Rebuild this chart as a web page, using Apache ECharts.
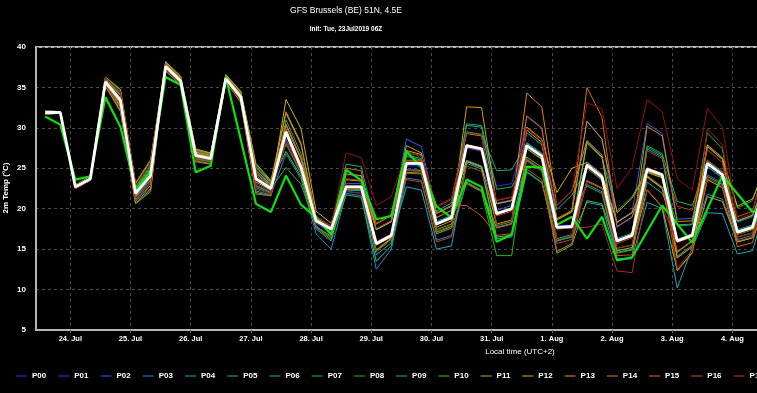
<!DOCTYPE html>
<html>
<head>
<meta charset="utf-8">
<script src="https://cdn.jsdelivr.net/npm/echarts@6/dist/echarts.min.js"></script>
<style>
html,body{margin:0;padding:0;background:#000;overflow:hidden;width:757px;height:393px;}
#chart{width:1040px;height:393px;}
</style>
</head>
<body>
<div id="chart"></div>
<script>
// time steps: first value 23 Jul 2019 14:00 local (UTC+2), every 6 h
const firstStepLocal = Date.UTC(2019, 6, 23, 14);
const stepHours = 6;
const monthNames = ['Jan','Feb','Mar','Apr','May','Jun','Jul','Aug','Sep','Oct','Nov','Dec'];
const yTicks = [5, 10, 15, 20, 25, 30, 35, 40];

const memberNames = ['P00','P01','P02','P03','P04','P05','P06','P07','P08','P09','P10','P11','P12','P13','P14','P15','P16','P17','P18','P19','P20'];

const P00 = [32.0,31.9,22.8,23.8,35.9,33.8,22.3,24.7,37.4,35.6,26.4,26.0,36.0,33.6,23.1,22.2,29.7,25.3,18.2,17.0,24.2,24.0,15.9,16.9,24.9,24.8,18.3,19.1,29.4,29.1,22.8,23.1,30.0,28.5,17.9,18.0,28.5,26.7,16.2,16.9,23.9,22.5,16.2,16.9,27.8,26.2,17.3,17.9,24.2];
const P01 = [31.8,31.8,22.6,23.6,35.4,32.7,21.3,23.1,38.0,36.1,27.1,26.6,36.4,34.2,24.8,23.1,30.4,26.2,18.2,17.2,22.1,21.9,13.5,15.4,25.3,25.3,16.9,17.6,27.5,27.1,20.7,21.1,31.4,29.9,18.7,19.7,30.9,28.7,17.7,18.9,24.6,23.9,14.0,15.4,25.3,23.9,18.3,19.0,24.9];
const P02 = [32.1,32.0,22.9,23.9,36.2,34.5,22.9,25.7,37.7,35.9,26.8,26.3,36.2,33.9,24.1,22.7,28.6,24.9,17.9,16.4,23.1,23.1,17.5,18.5,28.6,27.7,19.5,20.4,26.0,25.3,19.8,20.4,28.2,26.9,14.7,15.7,25.8,24.3,18.4,19.6,30.5,29.3,18.7,18.8,24.2,23.2,15.9,16.4,22.9];
const P03 = [31.9,31.9,22.7,23.7,35.6,33.1,21.6,23.7,37.1,35.4,26.0,25.6,35.7,33.2,22.2,21.7,26.8,23.7,16.9,15.0,21.9,21.6,12.5,15.0,23.8,23.5,16.1,16.7,23.3,22.3,17.7,18.2,26.1,24.8,17.6,17.7,23.0,22.1,13.7,13.8,27.4,26.4,15.9,16.6,21.8,21.2,16.2,16.7,23.9];
const P04 = [31.7,31.8,22.5,23.5,35.2,32.3,20.9,22.5,37.3,35.5,26.2,25.9,35.9,33.5,22.8,22.0,28.2,24.5,17.5,16.0,22.4,22.2,14.7,16.2,22.7,22.3,15.0,15.4,25.6,24.9,16.3,16.5,24.5,23.2,16.0,16.5,20.8,20.4,13.8,13.9,20.8,20.0,10.2,15.2,19.5,19.4,14.4,14.8,21.0];
const P05 = [32.0,32.0,22.8,23.8,36.0,34.1,22.6,25.1,38.1,36.3,27.3,26.8,36.5,34.4,25.4,23.4,29.1,24.7,18.6,17.3,22.3,22.3,14.3,15.8,26.5,26.0,19.7,20.7,30.3,30.1,20.6,21.0,29.4,27.9,19.9,21.7,25.0,23.5,14.5,14.9,23.3,21.9,17.9,18.0,25.2,23.8,15.9,16.4,24.8];
const P06 = [31.9,31.9,22.7,23.7,35.7,33.4,21.9,24.1,37.0,35.3,25.8,25.5,35.7,33.1,21.8,21.6,31.0,26.8,18.8,17.8,25.5,25.2,17.4,18.4,25.9,25.9,18.4,19.2,29.5,29.2,24.7,24.8,28.1,26.8,16.3,16.8,23.4,22.5,16.3,17.0,27.8,26.8,20.9,20.4,25.9,24.5,17.4,18.0,25.5];
const P07 = [31.7,31.8,22.5,23.5,35.1,32.0,20.6,22.1,37.8,36.0,26.9,26.5,36.3,34.1,24.5,22.9,28.0,24.3,17.8,16.6,22.5,22.5,15.5,16.5,26.7,26.2,18.9,19.8,30.5,30.3,22.4,22.7,26.0,24.7,17.5,17.6,28.1,26.3,19.7,21.5,24.7,24.0,14.1,15.5,23.6,22.6,18.4,19.1,23.8];
const P08 = [32.0,32.0,22.9,23.9,36.1,34.2,22.7,25.3,37.2,35.5,26.1,25.8,35.8,33.4,22.6,21.9,29.6,25.2,19.1,17.8,22.5,22.3,14.8,16.3,24.8,24.7,18.2,19.0,27.9,27.5,17.9,18.4,24.6,23.3,16.1,16.6,25.5,24.0,16.1,16.8,27.6,26.6,16.1,16.8,27.7,26.1,20.1,21.0,26.5];
const P09 = [32.1,32.0,23.0,24.0,36.3,34.8,23.2,26.1,37.6,35.8,26.6,26.2,36.1,33.8,23.7,22.5,25.1,23.0,17.7,16.5,21.7,21.4,13.5,15.4,24.4,24.3,16.9,17.6,23.1,22.1,14.2,14.2,27.5,26.2,18.7,19.7,22.8,21.9,14.6,15.0,24.6,23.9,18.0,18.1,29.4,27.4,16.8,17.4,22.2];
const P10 = [31.8,31.9,22.6,23.6,35.5,33.0,21.5,23.5,38.1,36.2,27.2,26.8,36.5,34.4,25.2,23.3,27.1,24.0,17.7,16.2,22.6,22.4,14.9,16.4,25.8,25.8,17.4,18.1,25.8,25.1,16.5,16.7,26.4,25.1,14.5,15.5,21.0,20.6,15.1,15.5,23.9,22.5,16.2,16.9,24.0,23.0,16.5,17.0,22.7];
const P11 = [31.9,31.9,22.8,23.8,35.8,33.7,22.2,24.5,38.2,36.4,27.4,26.9,36.6,34.5,25.6,23.5,31.8,27.9,18.9,17.6,22.6,22.6,15.6,16.6,25.5,25.5,17.1,17.8,27.7,27.3,19.3,19.9,29.7,28.2,17.6,17.7,28.2,26.4,14.8,15.2,22.3,20.2,12.4,14.6,25.5,24.1,18.5,19.2,23.9];
const P12 = [31.8,31.8,22.6,23.6,35.3,32.6,21.1,22.9,37.5,35.7,26.4,26.1,36.0,33.7,23.3,22.3,33.5,29.9,19.7,18.2,24.3,24.1,17.4,18.4,27.2,26.7,19.4,20.3,25.9,25.2,18.1,18.6,30.1,28.6,22.0,25.0,25.7,24.2,18.3,19.5,24.0,22.6,14.6,16.0,27.9,26.3,20.3,21.2,25.5];
const P13 = [32.1,32.0,22.9,23.9,36.2,34.7,23.1,25.9,37.9,36.1,27.0,26.6,36.3,34.2,24.7,23.0,30.3,26.1,19.0,17.5,23.6,23.4,18.1,19.2,27.8,26.9,17.7,18.5,32.6,32.5,20.6,21.0,27.4,26.1,18.6,19.6,30.8,28.6,19.5,21.3,24.5,23.8,13.9,15.3,21.5,20.9,15.9,16.4,20.6];
const P14 = [31.7,31.8,22.5,23.5,35.2,32.1,20.7,22.3,37.8,36.0,26.8,26.4,36.2,34.0,24.3,22.8,32.0,28.1,18.6,17.6,22.8,22.8,14.8,16.3,27.0,26.5,20.2,21.2,29.3,29.0,19.5,20.1,34.3,32.6,20.4,22.2,28.4,26.6,16.1,16.8,30.2,29.0,18.4,18.5,27.7,26.1,17.2,17.8,24.1];
const P15 = [32.0,32.0,22.8,23.8,35.9,34.0,22.4,24.9,37.1,35.3,25.9,25.6,35.7,33.2,22.0,21.6,30.5,26.3,18.8,17.5,25.0,24.7,15.5,16.5,24.5,24.4,18.9,19.8,23.2,22.2,17.6,18.1,31.5,30.0,18.8,19.8,35.0,31.3,17.8,19.0,24.7,24.0,12.3,14.5,23.6,22.6,15.3,15.8,22.3];
const P16 = [31.8,31.8,22.6,23.6,35.5,32.8,21.4,23.3,38.0,36.2,27.2,26.7,36.4,34.3,25.0,23.2,29.9,25.5,18.9,17.9,22.8,22.6,17.5,18.5,26.0,26.0,19.5,20.4,20.4,19.1,16.7,16.9,24.9,23.6,14.7,15.7,23.5,22.6,14.2,14.3,24.1,22.7,14.7,16.1,26.0,24.6,19.0,19.7,26.8];
const P17 = [32.0,32.0,22.9,23.9,36.1,34.4,22.8,25.5,37.4,35.6,26.3,25.9,35.9,33.5,22.9,22.1,29.2,24.8,17.7,16.5,23.7,23.5,18.2,19.3,23.6,23.3,15.9,16.5,25.3,24.6,19.1,19.7,25.9,24.6,15.7,16.2,25.1,23.6,15.7,16.4,27.2,26.2,20.3,19.8,27.3,25.7,16.0,16.5,22.2];
const P18 = [31.8,31.8,22.5,23.5,35.3,32.4,21.0,22.7,37.7,35.9,26.7,26.3,36.1,33.9,23.9,22.6,28.2,24.5,18.3,17.3,22.5,22.5,14.7,16.2,24.7,24.6,17.2,17.9,27.6,27.2,21.0,21.4,26.2,24.9,17.5,17.6,17.7,18.1,12.3,12.1,22.4,20.3,15.8,16.5,23.8,22.8,16.9,17.5,23.8];
const P19 = [31.9,31.9,22.7,23.7,35.8,33.5,22.0,24.3,37.2,35.4,26.0,25.7,35.8,33.3,22.4,21.8,28.4,24.7,18.7,17.7,22.2,21.9,15.9,16.9,25.8,25.8,20.3,21.3,29.4,29.1,18.0,18.5,30.0,28.5,16.2,16.7,23.3,22.4,15.1,15.5,25.1,24.4,12.7,14.9,29.9,27.9,16.5,17.0,21.2];
const P20 = [32.1,32.0,22.9,23.9,36.2,34.5,22.9,25.7,37.5,35.7,26.5,26.1,36.1,33.7,23.5,22.4,29.4,25.0,19.1,17.8,26.9,26.3,20.4,21.5,27.0,26.5,20.2,21.2,27.9,27.5,21.1,21.5,29.9,28.4,20.4,22.2,33.1,32.4,22.5,25.1,33.5,32.0,23.7,22.3,32.4,30.1,18.7,19.4,26.5];

const ensembleMean = [31.9,31.9,22.7,23.7,35.7,33.4,21.9,24.1,37.6,35.8,26.6,26.2,36.1,33.8,23.7,22.5,29.5,25.1,18.5,17.5,22.7,22.7,15.7,16.7,25.6,25.6,18.1,18.9,27.8,27.4,19.4,20.0,27.8,26.5,17.7,17.8,25.4,23.9,16.0,16.7,24.9,24.2,16.0,16.7,25.6,24.2,17.1,17.7,24.0];
const operational = [31.4,30.4,23.6,24.0,33.8,30.1,22.3,24.7,36.3,35.3,24.5,25.3,36.3,28.5,20.6,19.6,24.1,20.5,18.9,16.8,24.8,23.5,18.7,19.1,27.1,25.1,20.3,18.9,23.6,22.7,15.9,16.8,25.2,25.1,18.0,19.0,16.3,19.0,13.6,14.0,null,20.4,null,15.8,null,24.1,null,19.6,null,20.5];

const memberValues = [P00,P01,P02,P03,P04,P05,P06,P07,P08,P09,P10,P11,P12,P13,P14,P15,P16,P17,P18,P19,P20];
const memberColors = ['#3a2ad8','#2a3cf0','#2a64e8','#1e8cd8','#14aac8','#12b4a4','#14b478','#18b450','#1cb030','#30b41c','#5abc18','#a8b814','#c8b414','#d49c14','#dc8414','#d46c14','#c85614','#bc4214','#b03014','#a41e14','#941010'];

const timeOf = i => firstStepLocal + i * stepHours * 3600 * 1000;
const toPairs = arr => arr.map((v, i) => [timeOf(i), v]);

const FONT = 'Liberation Sans, Arial, sans-serif';
const series = memberValues.map((arr, k) => ({
  name: memberNames[k], type: 'line', data: toPairs(arr), symbol: 'none',
  lineStyle: {width: 1, color: memberColors[k]}, itemStyle: {color: memberColors[k]},
  z: 2, animation: false, emphasis: {disabled: true}
}));
series.push({
  name: 'GFS', type: 'line', data: toPairs(operational), symbol: 'none', connectNulls: true,
  lineStyle: {width: 2.2, color: '#10e010'}, itemStyle: {color: '#10e010'}, z: 4, animation: false
});
series.push({
  name: 'Mean', type: 'line', data: toPairs(ensembleMean), symbol: 'none',
  lineStyle: {width: 2.8, color: '#ffffff'}, itemStyle: {color: '#ffffff'}, z: 5, animation: false
});

const chart = echarts.init(document.getElementById('chart'), null, {renderer: 'canvas'});
chart.setOption({
  useUTC: true,
  backgroundColor: '#000',
  animation: false,
  graphic: [
    {type: 'text', x: 346, y: 11, style: {text: 'GFS Brussels (BE) 51N, 4.5E', fill: '#fff', font: '8.5px ' + FONT, textAlign: 'center', align: 'center', textVerticalAlign: 'middle', verticalAlign: 'middle'}},
    {type: 'text', x: 346, y: 29, style: {text: 'Init: Tue, 23Jul2019 06Z', fill: '#fff', font: 'bold 6.5px ' + FONT, textAlign: 'center', align: 'center', textVerticalAlign: 'middle', verticalAlign: 'middle'}},
    {type: 'text', x: 6, y: 188, rotation: Math.PI / 2, style: {text: '2m Temp (°C)', fill: '#fff', font: 'bold 8px ' + FONT, textAlign: 'center', align: 'center', textVerticalAlign: 'middle', verticalAlign: 'middle'}}
  ],
  legend: {
    left: 16, top: 372, itemWidth: 11, itemHeight: 1, itemGap: 12, padding: 0, icon: 'rect',
    textStyle: {color: '#fff', fontSize: 8, fontWeight: 'bold', fontFamily: FONT},
    data: memberNames.concat(['Mean', 'GFS'])
  },
  grid: {left: 36, right: 36, top: 47, bottom: 63, show: true, borderColor: '#b4b4b4', borderWidth: 2, backgroundColor: 'transparent', outerBoundsMode: 'none', containLabel: false},
  xAxis: {
    type: 'time',
    min: Date.UTC(2019, 6, 23, 10, 19),
    max: Date.UTC(2019, 7, 8, 12, 18),
    minInterval: 86400000, maxInterval: 86400000,
    name: 'Local time (UTC+2)', nameLocation: 'middle', nameGap: 18,
    nameTextStyle: {color: '#fff', fontSize: 8, fontFamily: FONT},
    axisLine: {show: true, lineStyle: {color: '#b4b4b4', width: 2}},
    axisTick: {show: true, length: 5, lineStyle: {color: '#666', type: [3, 3]}},
    splitLine: {show: true, lineStyle: {color: '#4a4a4a', type: [3, 3], width: 1}},
    axisLabel: {
      color: '#fff', fontSize: 7.5, fontWeight: 'bold', fontFamily: FONT, margin: 5,
      showMinLabel: false, showMaxLabel: false,
      formatter: v => {
        const d = new Date(v);
        if (d.getUTCHours() !== 0 || d.getUTCMinutes() !== 0) return '';
        return d.getUTCDate() + '. ' + monthNames[d.getUTCMonth()];
      }
    }
  },
  yAxis: {
    type: 'value', min: yTicks[0], max: yTicks[yTicks.length - 1], interval: 5,
    axisLine: {show: true, lineStyle: {color: '#b4b4b4', width: 2}},
    axisTick: {show: false},
    splitLine: {show: true, lineStyle: {color: '#4a4a4a', type: [3, 3], width: 1}},
    axisLabel: {color: '#fff', fontSize: 8, fontWeight: 'bold', fontFamily: FONT, margin: 10}
  },
  series: series
});
</script>
</body>
</html>
